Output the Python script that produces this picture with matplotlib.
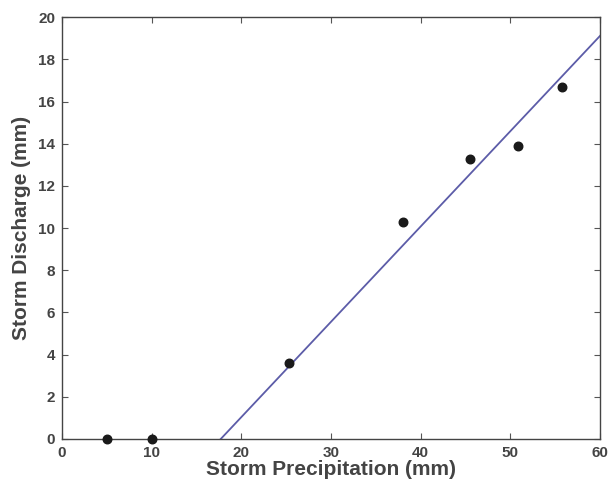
import numpy as np
import matplotlib.pyplot as plt

# storm events
precip = [5, 10, 25.3, 38, 45.5, 50.8, 55.8]
discharge = [0, 0, 3.6, 10.3, 13.3, 13.9, 16.7]

# fitted runoff line: Q = slope * P + intercept (clipped at 0 mm)
slope = 0.452
intercept = -8.0

plt.rcParams['font.family'] = ['Liberation Sans', 'DejaVu Sans']
plt.rcParams['font.weight'] = 'bold'

fig = plt.figure(figsize=(6.08, 4.87), dpi=100)
ax = fig.add_axes([0.102, 0.0986, 0.885, 0.866])

x0 = -intercept / slope
xs = np.array([x0, 60])
ax.plot(xs, slope * xs + intercept, color='#5c5ca8', lw=1.3)
ax.scatter(precip, discharge, s=38, color='#1a1a1a', zorder=3, clip_on=False)

ax.set_xlim(0, 60)
ax.set_ylim(0, 20)
ax.set_xticks(range(0, 61, 10))
ax.set_yticks(range(0, 21, 2))

text_col = '#444444'
ax.tick_params(direction='in', top=True, right=True, length=4, width=0.8,
               labelsize=11, labelcolor=text_col, color='#555555')
ax.tick_params(axis='x', pad=5)
ax.tick_params(axis='y', pad=5)
for sp in ax.spines.values():
    sp.set_color('#444444')
    sp.set_linewidth(1.0)

ax.set_xlabel('Storm Precipitation (mm)', fontsize=15, fontweight='bold',
              color=text_col, labelpad=0)
ax.set_ylabel('Storm Discharge (mm)', fontsize=15, fontweight='bold',
              color=text_col, labelpad=5)

fig.savefig('out.png', dpi=100)
